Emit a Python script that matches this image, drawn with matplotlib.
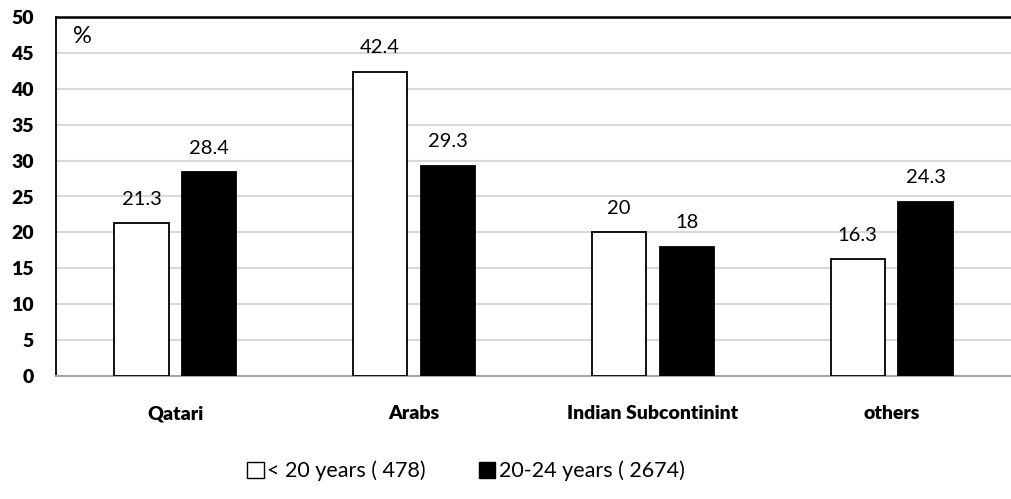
import matplotlib
matplotlib.use("Agg")
import matplotlib.pyplot as plt
from matplotlib.patches import Patch
import numpy as np

plt.rcParams['font.family'] = ['Lato', 'DejaVu Sans']

categories = ["Qatari", "Arabs", "Indian Subcontinint", "others"]
under_20 = [21.3, 42.4, 20, 16.3]
age_20_24 = [28.4, 29.3, 18, 24.3]
series_labels = ["< 20 years ( 478)", "20-24 years ( 2674)"]
y_ticks = [0, 5, 10, 15, 20, 25, 30, 35, 40, 45, 50]

fig = plt.figure(figsize=(10.11, 4.99), dpi=100)
ax = fig.add_axes([56 / 1011, 123 / 499, 955 / 1011, 359 / 499])

x = np.arange(len(categories))
offset = 0.142
width = 0.228

b1 = ax.bar(x - offset, under_20, width, color="white", edgecolor="black",
            linewidth=1.3, zorder=3)
b2 = ax.bar(x + offset, age_20_24, width, color="black", edgecolor="black",
            linewidth=1.3, zorder=3)

for bars, vals in ((b1, under_20), (b2, age_20_24)):
    for rect, v in zip(bars, vals):
        ax.annotate(f"{v:g}", (rect.get_x() + rect.get_width() / 2, v),
                    xytext=(0, 11), textcoords="offset points",
                    ha="center", va="bottom", fontsize=14.5)

ax.set_xlim(-0.5, len(categories) - 0.5)
ax.set_ylim(0, 50)
ax.set_yticks(y_ticks)
ax.set_yticklabels([str(t) for t in y_ticks], fontweight="heavy", fontsize=14)
ax.set_xticks(x)
ax.set_xticklabels(categories, fontweight="heavy", fontsize=14)
ax.tick_params(axis="y", length=0, pad=16)
ax.tick_params(axis="x", length=0, pad=21)

ax.grid(axis="y", color="#d9d9d9", linewidth=1.5, zorder=0)
ax.set_axisbelow(True)

ax.spines["left"].set_color("black")
ax.spines["left"].set_linewidth(1.3)
ax.spines["top"].set_color("black")
ax.spines["top"].set_linewidth(1.8)
ax.spines["bottom"].set_color("#a6a6a6")
ax.spines["bottom"].set_linewidth(1.5)
ax.spines["right"].set_visible(False)

ax.text(0.018, 0.975, "%", transform=ax.transAxes, ha="left", va="top", fontsize=17)

handles = [Patch(facecolor="white", edgecolor="black", linewidth=1.0),
           Patch(facecolor="black", edgecolor="black", linewidth=1.0)]
fig.legend(handles, series_labels, loc="center", bbox_to_anchor=(466 / 1011, 1 - 471 / 499),
           ncol=2, frameon=False, fontsize=15.5, handlelength=0.75, handleheight=0.75,
           handletextpad=0.15, columnspacing=2.5)

fig.savefig("out.png", dpi=100)
